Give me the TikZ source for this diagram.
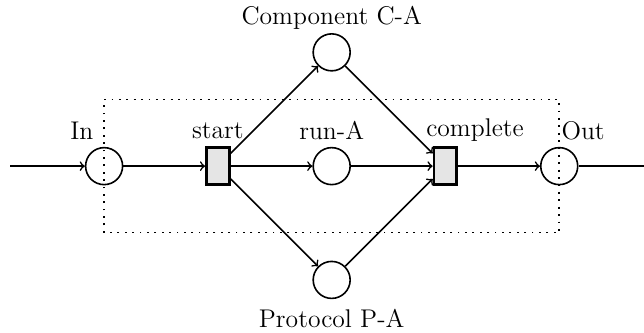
\documentclass[tikz,border=0pt,12pt]{standalone}
\usepackage{amsmath,amssymb}
\begin{document}
\begin{tikzpicture}[font=\fontsize{12.8}{15}\selectfont,
place/.style={circle,draw,thick,minimum size=0.65cm,inner sep=0pt},
trans/.style={rectangle,draw,line width=1.4pt,fill=gray!20,minimum width=0.4cm,minimum height=0.65cm,inner sep=0pt},
arc/.style={thick,->}]
\useasboundingbox (-1.83,-2.93) rectangle (9.49,2.92);
\draw[thick,dash pattern=on 0.9pt off 2.8pt] (0,-1.17) rectangle (8,1.17);
\node[place] (in) at (0,0) {};
\node[trans] (start) at (2,0) {};
\node[place] (runA) at (4,0) {};
\node[place] (compCA) at (4,2) {};
\node[place] (protPA) at (4,-2) {};
\node[trans] (complete) at (6,0) {};
\node[place] (out) at (8,0) {};
\coordinate (src) at (-1.65,0);
\coordinate (snk) at (9.49,0);
\node (inlab) at (-0.39,0.63) {In};
\node (startlab) at (2,0.63) {start};
\node (runlab) at (4,0.63) {run-A};
\node (completelab) at (6.52,0.63) {complete};
\node (outlab) at (8.42,0.63) {Out};
\node (complab) at (4,2.6) {Component C-A};
\node (protlab) at (4,-2.67) {Protocol P-A};
\draw[arc] (src) -- (in);
\draw[arc] (in) -- (start);
\draw[arc] (start) -- (compCA);
\draw[arc] (start) -- (runA);
\draw[arc] (start) -- (protPA);
\draw[arc] (compCA) -- (complete);
\draw[arc] (runA) -- (complete);
\draw[arc] (protPA) -- (complete);
\draw[arc] (complete) -- (out);
\draw[thick] (out) -- (snk);
\end{tikzpicture}
\end{document}
